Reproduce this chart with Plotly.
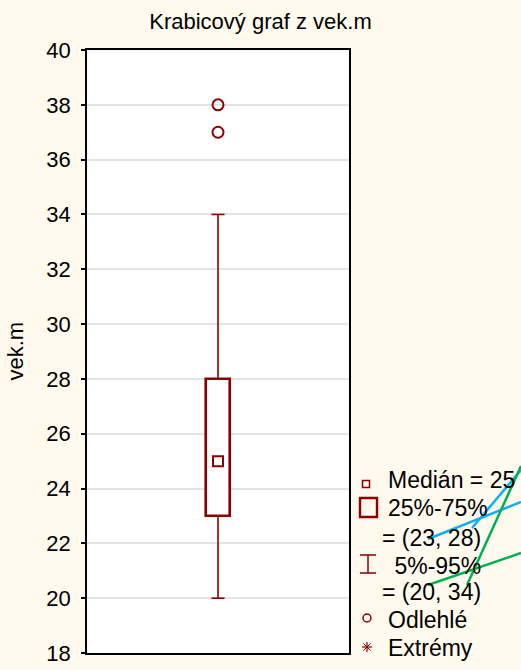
import plotly.graph_objects as go

# Summary statistics of vek.m
variable = "vek.m"
q1, median, q3 = 23, 25, 28
whisker_low, whisker_high = 20, 34
outliers = [37, 38]

y_ticks = [18, 20, 22, 24, 26, 28, 30, 32, 34, 36, 38, 40]

legend_lines = [
    f"Medián = {median}",
    "25%-75%",
    f"= ({q1}, {q3})",
    " 5%-95%",
    f"= ({whisker_low}, {whisker_high})",
    "Odlehlé",
    "Extrémy",
]

DARK_RED = "#8B0000"
BG = "#FFF9EE"
FONT = "Liberation Sans, Arial, sans-serif"

W, H = 521, 670
L, R, T, B = 87, 349, 50, 653   # plot area in pixels


def px(x):
    return (x - L) / (R - L)


def py(y):
    return (B - y) / (B - T)


box_w = 0.095
cap_w = 0.05

fig = go.Figure()

# box (Q1..Q3)
fig.add_trace(go.Bar(
    x=[0], y=[q3 - q1], base=[q1], width=[box_w],
    marker=dict(color="white", line=dict(color=DARK_RED, width=2.6)),
    hoverinfo="skip", showlegend=False,
))

# whiskers and caps
wx, wy = [], []
for lo, hi in [(whisker_low, q1), (q3, whisker_high)]:
    wx += [0, 0, None]
    wy += [lo, hi, None]
for v in [whisker_low, whisker_high]:
    wx += [-cap_w / 2, cap_w / 2, None]
    wy += [v, v, None]
fig.add_trace(go.Scatter(
    x=wx, y=wy, mode="lines",
    line=dict(color=DARK_RED, width=1.6),
    hoverinfo="skip", showlegend=False,
))

# median
fig.add_trace(go.Scatter(
    x=[0], y=[median], mode="markers",
    marker=dict(symbol="square-open", size=10, color=DARK_RED, line=dict(width=2)),
    showlegend=False,
))

# outliers
fig.add_trace(go.Scatter(
    x=[0] * len(outliers), y=outliers, mode="markers",
    marker=dict(symbol="circle-open", size=11, color=DARK_RED, line=dict(width=2)),
    showlegend=False,
))

shapes = []


def seg(x0, y0, x1, y1, color=DARK_RED, width=1.5):
    shapes.append(dict(type="line", xref="paper", yref="paper",
                       x0=px(x0), y0=py(y0), x1=px(x1), y1=py(y1),
                       line=dict(color=color, width=width), layer="above"))


# legend symbols
shapes.append(dict(type="rect", xref="paper", yref="paper",
                   x0=px(362.5), x1=px(369.5), y0=py(487.5), y1=py(480.5),
                   line=dict(color=DARK_RED, width=1.5)))
shapes.append(dict(type="rect", xref="paper", yref="paper",
                   x0=px(360), x1=px(377), y0=py(517), y1=py(498),
                   line=dict(color=DARK_RED, width=2.4)))
seg(360, 555, 376, 555)
seg(360, 573, 376, 573)
seg(368, 555, 368, 573)
shapes.append(dict(type="circle", xref="paper", yref="paper",
                   x0=px(363), x1=px(371), y0=py(622), y1=py(614),
                   line=dict(color=DARK_RED, width=1.5)))
seg(362, 647, 372, 647, width=1.2)
seg(367, 642, 367, 652, width=1.2)
seg(363.5, 643.5, 370.5, 650.5, width=1)
seg(363.5, 650.5, 370.5, 643.5, width=1)

# hand-drawn strokes over the legend
BLUE = "#12AEEF"
GREEN = "#00B050"
seg(428, 539, 521, 502, BLUE, 2.5)
seg(472, 528, 521, 470, BLUE, 2.5)
seg(428, 585, 521, 553, GREEN, 2.5)
seg(467, 585, 521, 466, GREEN, 2.5)

annotations = []
legend_pos = [(386, 480), (386, 508), (380, 538), (386, 566), (380, 592), (386, 620), (386, 648)]
for text, (x, y) in zip(legend_lines, legend_pos):
    annotations.append(dict(
        text=text, xref="paper", yref="paper", x=px(x), y=py(y),
        xanchor="left", yanchor="middle", showarrow=False,
        font=dict(family=FONT, size=23, color="black"),
    ))

annotations.append(dict(
    text=variable, xref="paper", yref="paper", x=px(15), y=0.5,
    xanchor="center", yanchor="middle", textangle=-90, showarrow=False,
    font=dict(family=FONT, size=22, color="black"),
))

fig.update_layout(
    width=W, height=H,
    margin=dict(l=L, r=W - R, t=T, b=H - B, pad=0, autoexpand=False),
    paper_bgcolor=BG, plot_bgcolor="white",
    title=dict(text=f"Krabicový graf z {variable}", x=0.5, xref="container",
               xanchor="center", y=1 - 21 / H, yref="container", yanchor="middle",
               font=dict(family=FONT, size=22, color="black")),
    font=dict(family=FONT, color="black"),
    shapes=shapes, annotations=annotations,
    xaxis=dict(range=[-0.5, 0.5], showticklabels=False, showgrid=False,
               zeroline=False, ticks="", showline=True, linecolor="black",
               linewidth=1.6, mirror=True, fixedrange=True, automargin=False),
    yaxis=dict(range=[18, 40], tickvals=y_ticks, ticks="outside", ticklen=4,
               tickwidth=1.5, tickcolor="black", showgrid=True,
               gridcolor="#E4E4E4", gridwidth=1.5, zeroline=False,
               showline=True, linecolor="black", linewidth=1.6, mirror=True,
               tickfont=dict(family=FONT, size=22, color="black"),
               ticklabelstandoff=6, automargin=False),
    yaxis2=dict(range=[18, 40], tickvals=y_ticks, overlaying="y", side="right",
                ticks="inside", ticklen=5, tickwidth=1.5, tickcolor="black",
                showticklabels=False, showgrid=False, zeroline=False,
                automargin=False),
    bargap=0,
)

fig.write_html("out.html")
